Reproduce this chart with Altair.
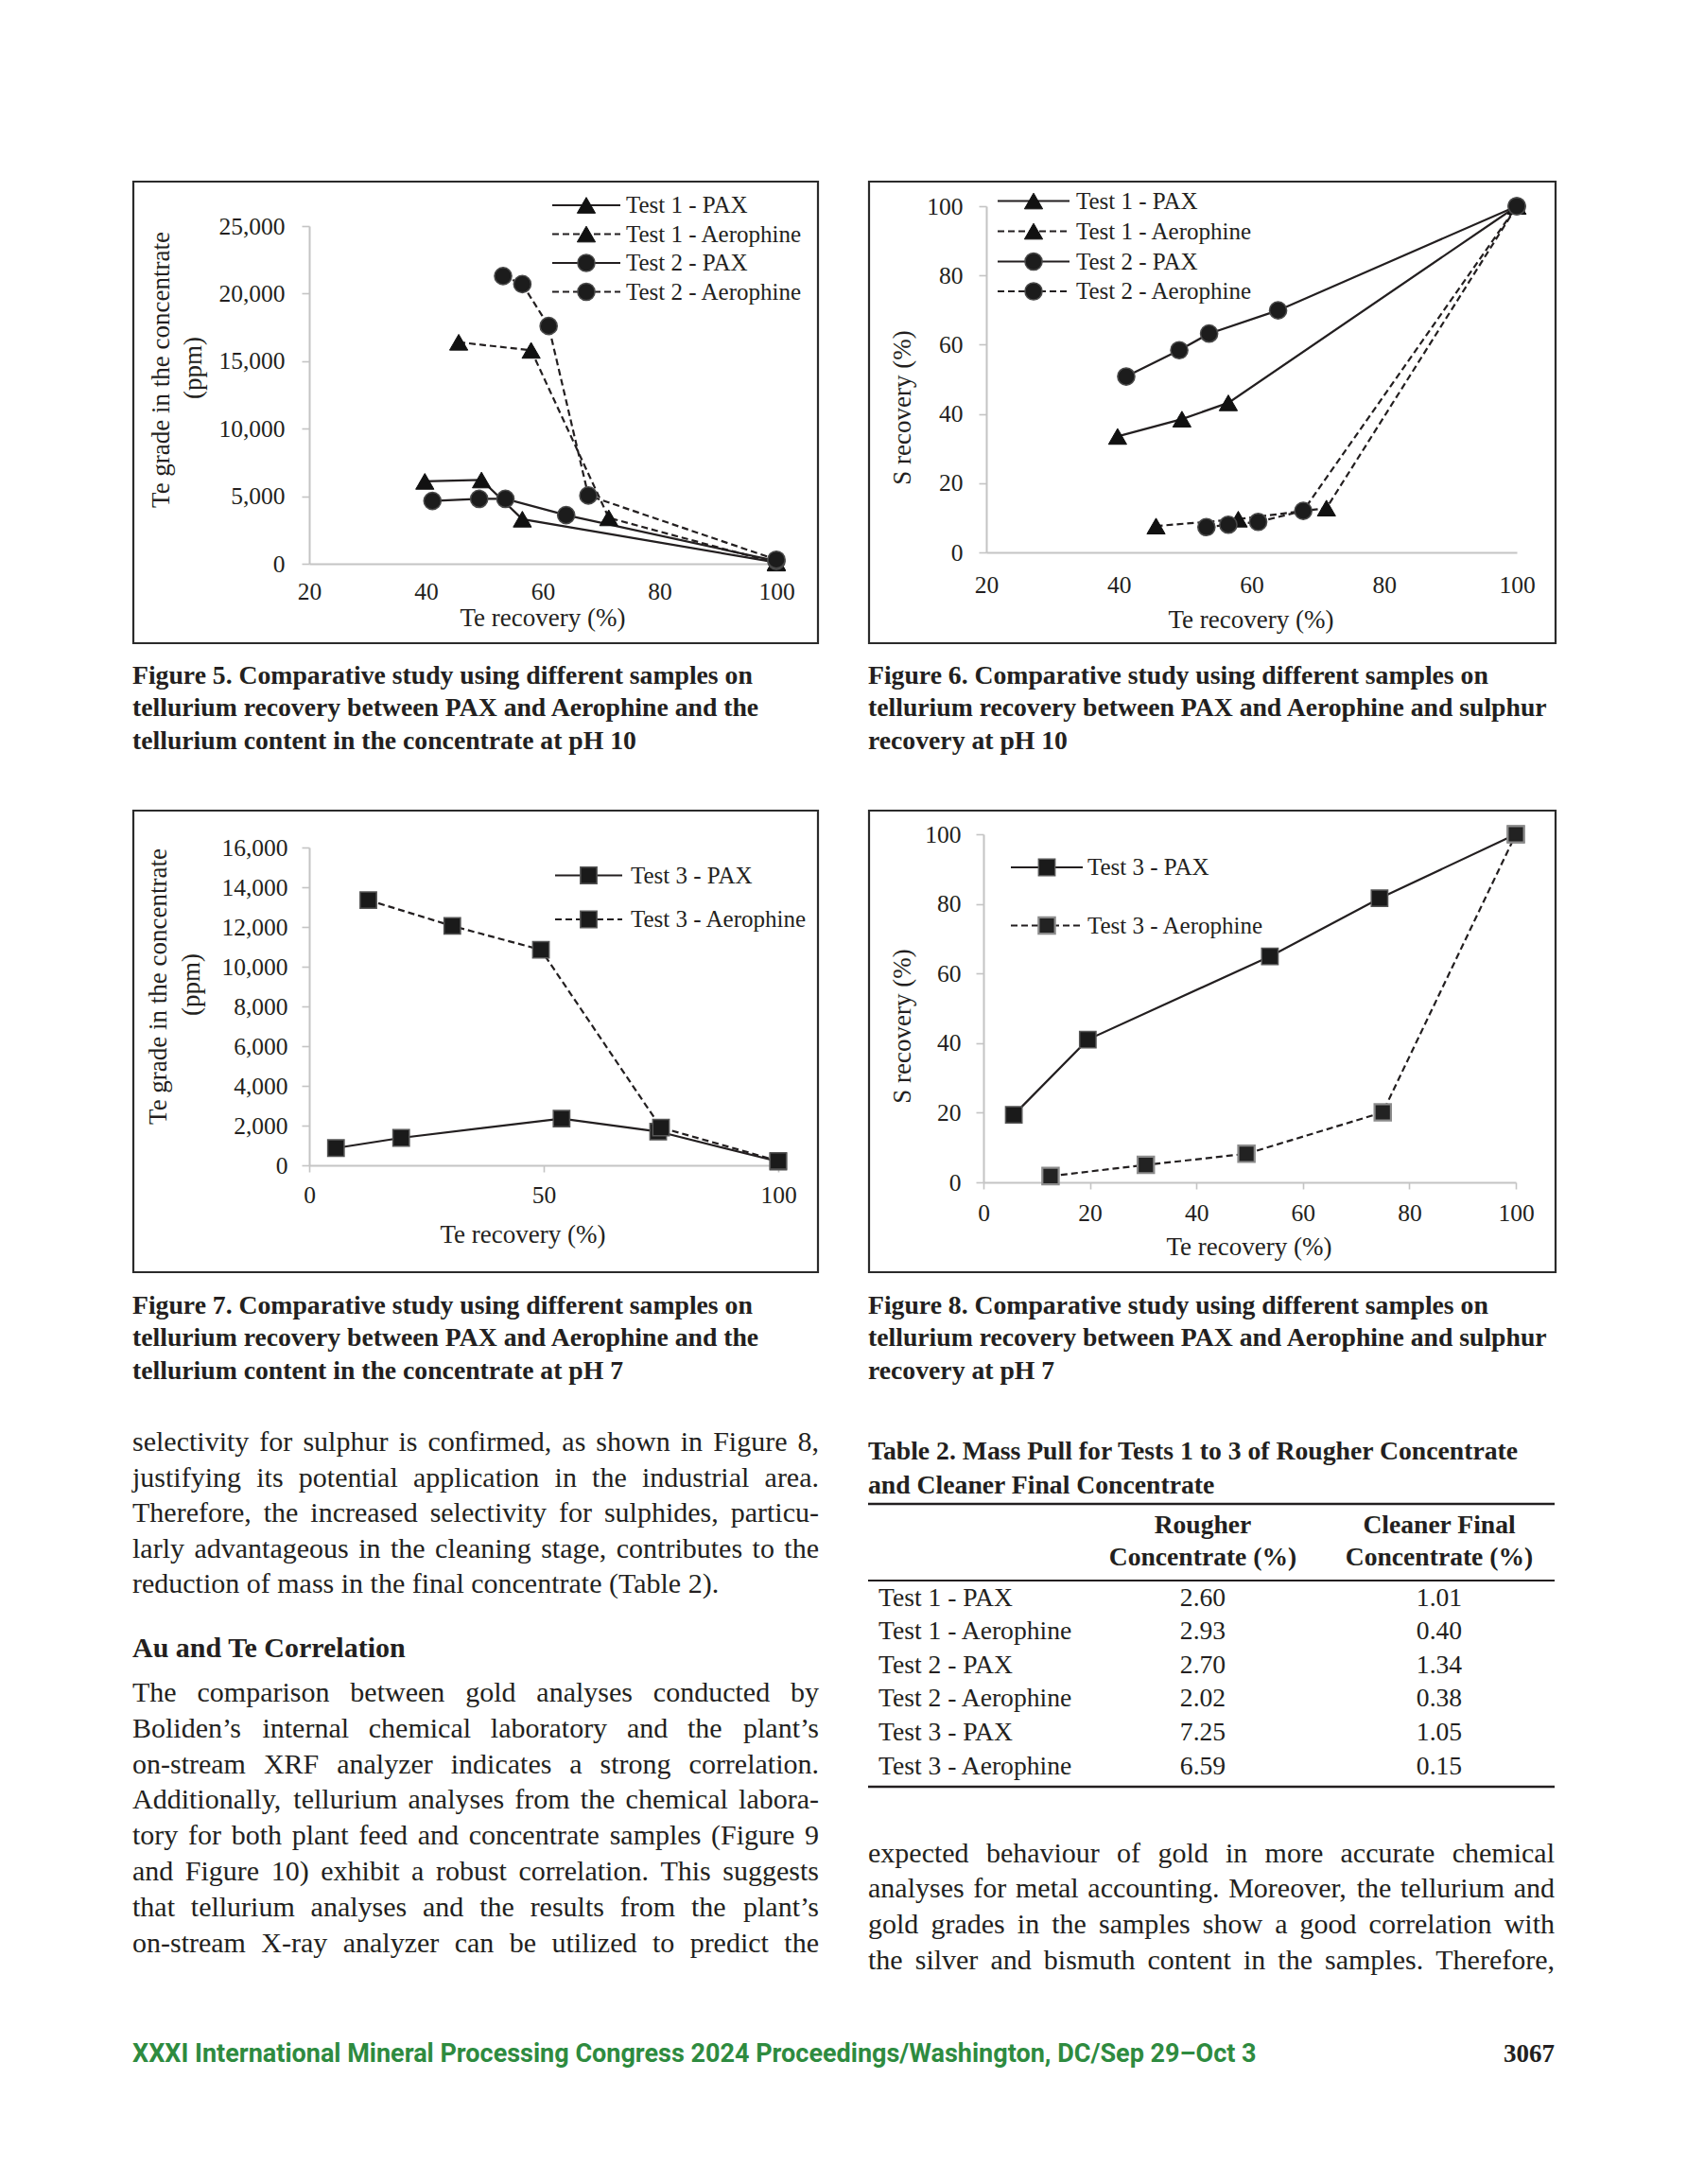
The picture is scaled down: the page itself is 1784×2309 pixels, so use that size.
import altair as alt
import pandas as pd

# ------------------------------------------------------------------
# Values
# ------------------------------------------------------------------
# Tests 1 and 2, pH 10 (Figures 5 and 6): Te recovery (%), Te grade (ppm), S recovery (%)
T1_PAX_TE = [39.8, 49.5, 56.5, 100.0]
T1_PAX_GRADE = [6100, 6200, 3300, 100]
T1_PAX_S = [33.5, 38.5, 43.2, 100.0]
T1_AERO_TE = [45.6, 58.0, 71.3, 100.0]
T1_AERO_GRADE = [16400, 15800, 3400, 50]
T1_AERO_S = [7.6, 9.6, 12.8, 100.0]
T2_PAX_TE = [41.1, 49.1, 53.6, 64.0, 100.0]
T2_PAX_GRADE = [4650, 4800, 4800, 3600, 200]
T2_PAX_S = [50.8, 58.4, 63.2, 69.9, 100.0]
T2_AERO_TE = [53.2, 56.5, 61.0, 67.8, 100.0]
T2_AERO_GRADE = [21300, 20700, 17600, 5050, 300]
T2_AERO_S = [7.3, 8.0, 8.8, 12.0, 100.0]
# Test 3, pH 7 (Figures 7 and 8)
T3_PAX_TE = [5.7, 19.6, 53.8, 74.4, 100.0]
T3_PAX_GRADE = [870, 1380, 2350, 1700, 190]
T3_PAX_S = [19.4, 41.0, 64.9, 81.6, 100.0]
T3_AERO_TE = [12.6, 30.5, 49.4, 75.0, 100.0]
T3_AERO_GRADE = [13350, 12050, 10850, 1900, 220]
T3_AERO_S = [1.8, 5.0, 8.2, 20.1, 100.0]

NAMES_12 = ["Test 1 - PAX", "Test 1 - Aerophine", "Test 2 - PAX", "Test 2 - Aerophine"]
NAMES_3 = ["Test 3 - PAX", "Test 3 - Aerophine"]

FIG5_XTICKS = [20, 40, 60, 80, 100]
FIG5_YTICKS = [0, 5000, 10000, 15000, 20000, 25000]
FIG6_XTICKS = [20, 40, 60, 80, 100]
FIG6_YTICKS = [0, 20, 40, 60, 80, 100]
FIG7_XTICKS = [0, 50, 100]
FIG7_YTICKS = [0, 2000, 4000, 6000, 8000, 10000, 12000, 14000, 16000]
FIG8_XTICKS = [0, 20, 40, 60, 80, 100]
FIG8_YTICKS = [0, 20, 40, 60, 80, 100]

X_TITLE = "Te recovery (%)"
Y_TITLE_GRADE = ["Te grade in the concentrate", "(ppm)"]
Y_TITLE_S = "S recovery (%)"

CAP5 = ["Figure 5. Comparative study using different samples on",
        "tellurium recovery between PAX and Aerophine and the",
        "tellurium content in the concentrate at pH 10"]
CAP6 = ["Figure 6. Comparative study using different samples on",
        "tellurium recovery between PAX and Aerophine and sulphur",
        "recovery at pH 10"]
CAP7 = ["Figure 7. Comparative study using different samples on",
        "tellurium recovery between PAX and Aerophine and the",
        "tellurium content in the concentrate at pH 7"]
CAP8 = ["Figure 8. Comparative study using different samples on",
        "tellurium recovery between PAX and Aerophine and sulphur",
        "recovery at pH 7"]

PARA1 = ["selectivity for sulphur is confirmed, as shown in Figure 8,",
         "justifying its potential application in the industrial area.",
         "Therefore, the increased selectivity for sulphides, particu-",
         "larly advantageous in the cleaning stage, contributes to the",
         "reduction of mass in the final concentrate (Table 2)."]
HEADING = "Au and Te Correlation"
PARA2 = ["The comparison between gold analyses conducted by",
         "Boliden’s internal chemical laboratory and the plant’s",
         "on-stream XRF analyzer indicates a strong correlation.",
         "Additionally, tellurium analyses from the chemical labora-",
         "tory for both plant feed and concentrate samples (Figure 9",
         "and Figure 10) exhibit a robust correlation. This suggests",
         "that tellurium analyses and the results from the plant’s",
         "on-stream X-ray analyzer can be utilized to predict the"]
PARA3 = ["expected behaviour of gold in more accurate chemical",
         "analyses for metal accounting. Moreover, the tellurium and",
         "gold grades in the samples show a good correlation with",
         "the silver and bismuth content in the samples. Therefore,"]

TABLE_TITLE = ["Table 2. Mass Pull for Tests 1 to 3 of Rougher Concentrate",
               "and Cleaner Final Concentrate"]
TABLE_HEAD_1 = ["Rougher", "Concentrate (%)"]
TABLE_HEAD_2 = ["Cleaner Final", "Concentrate (%)"]
TABLE_TESTS = ["Test 1 - PAX", "Test 1 - Aerophine", "Test 2 - PAX",
               "Test 2 - Aerophine", "Test 3 - PAX", "Test 3 - Aerophine"]
TABLE_ROUGHER = [2.60, 2.93, 2.70, 2.02, 7.25, 6.59]
TABLE_CLEANER = [1.01, 0.40, 1.34, 0.38, 1.05, 0.15]

FOOTER = "XXXI International Mineral Processing Congress 2024 Proceedings/Washington, DC/Sep 29–Oct 3"
PAGE_NO = "3067"

# ------------------------------------------------------------------
# Layout / style
# ------------------------------------------------------------------
M = 8
PAGE_W, PAGE_H = 1784, 2309
W, H = PAGE_W - 2 * M, PAGE_H - 2 * M


def P(v):
    return v - M


SERIF = "Liberation Serif"
SANS = "Roboto"
INK = "#231f20"
AXC = "#c4c4c4"
GREEN = "#2e8b3f"
DASH = [7, 4]
LW = 2.2
TICK_FS = 25.5

FIGS = {
    "f5": dict(box=(141, 192, 865, 680), xr=(327, 821), yr=(596, 239), xdom=[20, 100], ydom=[0, 25000],
               xt=FIG5_XTICKS, yt=FIG5_YTICKS, xtick=0, xpad=17, ypad=18),
    "f6": dict(box=(919, 192, 1645, 680), xr=(1043, 1604), yr=(584, 218), xdom=[20, 100], ydom=[0, 100],
               xt=FIG6_XTICKS, yt=FIG6_YTICKS, xtick=0, xpad=22, ypad=17),
    "f7": dict(box=(141, 857, 865, 1345), xr=(327, 823), yr=(1232, 896), xdom=[0, 100], ydom=[0, 16000],
               xt=FIG7_XTICKS, yt=FIG7_YTICKS, xtick=7, xpad=12, ypad=15),
    "f8": dict(box=(919, 857, 1645, 1345), xr=(1040, 1603), yr=(1250, 882), xdom=[0, 100], ydom=[0, 100],
               xt=FIG8_XTICKS, yt=FIG8_YTICKS, xtick=7, xpad=13, ypad=16),
}

TRI = dict(shape="triangle-up", size=370, fill="#111111", stroke="#111111", sw=1)
CIR = dict(shape="circle", size=330, fill="#1c1c1c", stroke="#4a4a4a", sw=1.5)
SQ = dict(shape="square", size=300, fill="#1a1a1a", stroke="#555555", sw=1.5)
SQG = dict(shape="square", size=300, fill="#222222", stroke="#8c8c8c", sw=2.2)


def style(marker, dashed):
    d = dict(marker)
    d["dash"] = DASH if dashed else None
    return d


STYLE_12 = [style(TRI, False), style(TRI, True), style(CIR, False), style(CIR, True)]
STYLE_7 = [style(SQ, False), style(SQ, True)]
STYLE_8 = [style(SQ, False), style(SQG, True)]


def point_kw(st):
    return dict(shape=st["shape"], filled=True, size=st["size"], fill=st["fill"],
                stroke=st["stroke"], strokeWidth=st["sw"], opacity=1)


def figure(spec, series):
    xs = alt.Scale(domain=spec["xdom"], range=[P(spec["xr"][0]), P(spec["xr"][1])], nice=False, zero=False)
    ys = alt.Scale(domain=spec["ydom"], range=[P(spec["yr"][0]), P(spec["yr"][1])], nice=False, zero=False)
    common = dict(title=None, grid=False, domainColor=AXC, domainWidth=2, tickColor=AXC, tickWidth=1.6,
                  labelFont=SERIF, labelFontSize=TICK_FS, labelColor=INK, labelFlush=False, labelOverlap=False)
    xax = alt.Axis(orient="bottom", offset=P(spec["yr"][0]) - H, values=spec["xt"], format=".0f",
                   tickSize=spec["xtick"], ticks=spec["xtick"] > 0, labelPadding=spec["xpad"], **common)
    yax = alt.Axis(orient="left", offset=-P(spec["xr"][0]), values=spec["yt"], format=",.0f",
                   tickSize=8, labelPadding=spec["ypad"], **common)
    lines, pts = [], []
    for name, te, val, st in series:
        df = pd.DataFrame({"te": te, "v": val, "series": name})
        enc = dict(x=alt.X("te:Q", scale=xs, axis=xax), y=alt.Y("v:Q", scale=ys, axis=yax))
        mk = dict(color=INK, strokeWidth=LW)
        if st["dash"]:
            mk["strokeDash"] = st["dash"]
        lines.append(alt.Chart(df).mark_line(**mk).encode(**enc))
        pts.append(alt.Chart(df).mark_point(**point_kw(st)).encode(**enc))
    return alt.layer(*lines, *pts)


fig5 = figure(FIGS["f5"], [
    (NAMES_12[0], T1_PAX_TE, T1_PAX_GRADE, STYLE_12[0]),
    (NAMES_12[1], T1_AERO_TE, T1_AERO_GRADE, STYLE_12[1]),
    (NAMES_12[2], T2_PAX_TE, T2_PAX_GRADE, STYLE_12[2]),
    (NAMES_12[3], T2_AERO_TE, T2_AERO_GRADE, STYLE_12[3]),
])
fig6 = figure(FIGS["f6"], [
    (NAMES_12[0], T1_PAX_TE, T1_PAX_S, STYLE_12[0]),
    (NAMES_12[1], T1_AERO_TE, T1_AERO_S, STYLE_12[1]),
    (NAMES_12[2], T2_PAX_TE, T2_PAX_S, STYLE_12[2]),
    (NAMES_12[3], T2_AERO_TE, T2_AERO_S, STYLE_12[3]),
])
fig7 = figure(FIGS["f7"], [
    (NAMES_3[0], T3_PAX_TE, T3_PAX_GRADE, STYLE_7[0]),
    (NAMES_3[1], T3_AERO_TE, T3_AERO_GRADE, STYLE_7[1]),
])
fig8 = figure(FIGS["f8"], [
    (NAMES_3[0], T3_PAX_TE, T3_PAX_S, STYLE_8[0]),
    (NAMES_3[1], T3_AERO_TE, T3_AERO_S, STYLE_8[1]),
])


def PX(f):
    return alt.X(f"{f}:Q", scale=None, axis=None)


def PY(f):
    return alt.Y(f"{f}:Q", scale=None, axis=None)


# ---------------- legends ----------------
def legend(names, styles, rows_y, x0, x1, xm, xt):
    out = []
    for name, st, y in zip(names, styles, rows_y):
        df = pd.DataFrame({"name": [name], "x0": [P(x0)], "x1": [P(x1)], "xm": [P(xm)],
                           "xt": [P(xt)], "y": [P(y)]})
        base = alt.Chart(df)
        rk = dict(color=INK, strokeWidth=LW)
        if st["dash"]:
            rk["strokeDash"] = st["dash"]
        out.append(base.mark_rule(**rk).encode(x=PX("x0"), x2="x1:Q", y=PY("y")))
        out.append(base.mark_point(**point_kw(st)).encode(x=PX("xm"), y=PY("y")))
        out.append(base.mark_text(align="left", baseline="middle", font=SERIF, fontSize=25,
                                  color=INK).encode(x=PX("xt"), y=PY("y"), text="name:N"))
    return out


legends = []
legends += legend(NAMES_12, STYLE_12, [217, 247.5, 278, 308.5], 584, 656, 620, 662)
legends += legend(NAMES_12, STYLE_12, [212.5, 244.5, 276.5, 308], 1055, 1131, 1093, 1138)
legends += legend(NAMES_3, STYLE_7, [925.5, 972], 587, 658, 622.5, 667)
legends += legend(NAMES_3, STYLE_8, [917, 978.5], 1069, 1145, 1107, 1150)


# ---------------- text helpers ----------------
def text_layer(rows, size, weight="normal", align="left", font=SERIF, color=INK, angle=None):
    df = pd.DataFrame(rows, columns=["t", "x", "y"])
    df["x"] = df["x"] - M
    df["y"] = df["y"] - M
    kw = dict(font=font, fontSize=size, fontWeight=weight, align=align, baseline="middle", color=color)
    if angle is not None:
        kw["angle"] = angle
    return alt.Chart(df).mark_text(**kw).encode(x=PX("x"), y=PY("y"), text="t:N")


_W = {" ": 250, ",": 250, ".": 250, "-": 333, "(": 333, ")": 333, "’": 333, "%": 833, ":": 278, ";": 278}
for _c in "0123456789":
    _W[_c] = 500
_W.update(dict(zip("abcdefghijklmnopqrstuvwxyz",
                   [444, 500, 444, 500, 444, 333, 500, 500, 278, 278, 500, 278, 778,
                    500, 500, 500, 500, 333, 389, 278, 500, 500, 722, 500, 500, 444])))
_W.update(dict(zip("ABCDEFGHIJKLMNOPQRSTUVWXYZ",
                   [722, 667, 667, 722, 611, 556, 722, 722, 333, 389, 722, 611, 889,
                    722, 722, 556, 722, 667, 556, 611, 722, 722, 944, 722, 722, 611])))


def tw(s, size):
    return sum(_W.get(c, 500) for c in s) * size / 1000.0


BODY = 30


def paragraph(lines, x0, x1, y0, dy, last_ragged):
    left, right = [], []
    for i, line in enumerate(lines):
        y = y0 + dy * i
        if last_ragged and i == len(lines) - 1:
            left.append((line, x0, y))
            continue
        words = line.split(" ")
        widths = [tw(w, BODY) for w in words]
        gap = (x1 - x0 - sum(widths)) / (len(words) - 1)
        x = x0
        for j, (w, wd) in enumerate(zip(words, widths)):
            if j == len(words) - 1:
                right.append((w, x1, y))
            else:
                left.append((w, x, y))
            x += wd + gap
    return left, right


LX0, LX1 = 140, 866
RX0, RX1 = 918, 1644

body_left, body_right = [], []
for lines, x0, x1, y0, dy, rag in [(PARA1, LX0, LX1, 1525, 37.6, True),
                                    (PARA2, LX0, LX1, 1790, 37.8, False),
                                    (PARA3, RX0, RX1, 1959.5, 37.8, False)]:
    a, b = paragraph(lines, x0, x1, y0, dy, rag)
    body_left += a
    body_right += b

# captions
cap_rows = []
for cap, x, y0 in [(CAP5, LX0, 714.5), (CAP6, RX0, 714.5), (CAP7, LX0, 1380.5), (CAP8, RX0, 1380.5)]:
    for i, ln in enumerate(cap):
        cap_rows.append((ln, x, y0 + 34.6 * i))
cap_rows += [(TABLE_TITLE[0], RX0, 1535), (TABLE_TITLE[1], RX0, 1570.5)]

# axis titles
xt_rows = [(X_TITLE, 574, 654), (X_TITLE, 1323, 656), (X_TITLE, 553, 1306), (X_TITLE, 1321, 1319)]
yt_rows = [(Y_TITLE_GRADE[0], 171, 391), (Y_TITLE_GRADE[1], 205, 389),
           (Y_TITLE_S, 955, 431),
           (Y_TITLE_GRADE[0], 168, 1043), (Y_TITLE_GRADE[1], 202.5, 1041),
           (Y_TITLE_S, 955, 1085)]

# table
COL1, COL2 = 1272, 1522
head_rows = [(TABLE_HEAD_1[0], COL1, 1613), (TABLE_HEAD_1[1], COL1, 1647),
             (TABLE_HEAD_2[0], COL2, 1613), (TABLE_HEAD_2[1], COL2, 1647)]
row_label, row_vals = [], []
for i, (t, r, c) in enumerate(zip(TABLE_TESTS, TABLE_ROUGHER, TABLE_CLEANER)):
    y = 1689.5 + 35.6 * i
    row_label.append((t, 929, y))
    row_vals.append((f"{r:.2f}", COL1, y))
    row_vals.append((f"{c:.2f}", COL2, y))

rules_df = pd.DataFrame({"x": [P(RX0)] * 3, "x2": [P(RX1)] * 3,
                         "y": [P(1590), P(1671), P(1889)], "w": [2.6, 1.9, 2.6]})
rules = alt.Chart(rules_df).mark_rule(color=INK).encode(
    x=PX("x"), x2="x2:Q", y=PY("y"), strokeWidth=alt.StrokeWidth("w:Q", scale=None, legend=None))

frame_df = pd.DataFrame([FIGS[k]["box"] for k in ["f5", "f6", "f7", "f8"]], columns=["x", "y", "x2", "y2"]) - M
frames = alt.Chart(frame_df).mark_rect(fill="transparent", stroke="#2b2b2b", strokeWidth=2.2).encode(
    x=PX("x"), x2="x2:Q", y=PY("y"), y2="y2:Q")

texts = [
    text_layer(xt_rows, 27, align="center"),
    text_layer(yt_rows, 27, align="center", angle=270),
    text_layer(cap_rows, 27.7, weight="bold"),
    text_layer([(HEADING, LX0, 1743)], 30, weight="bold"),
    text_layer(body_left, BODY),
    text_layer(body_right, BODY, align="right"),
    text_layer(head_rows, 27.6, weight="bold", align="center"),
    text_layer(row_label, 27.6),
    text_layer(row_vals, 27.6, align="center"),
    text_layer([(FOOTER, 140, 2171.5)], 27, weight="bold", font=SANS, color=GREEN),
    text_layer([(PAGE_NO, 1644, 2171.5)], 27, weight="bold", align="right"),
]

chart = alt.layer(frames, fig5, fig6, fig7, fig8, rules, *legends, *texts).resolve_scale(
    x="independent", y="independent"
).properties(
    width=W, height=H, padding=0, autosize=alt.AutoSizeParams(type="none"), background="white"
).configure_view(stroke=None)

chart.save("out.html", embed_options={"renderer": "svg", "actions": False})
